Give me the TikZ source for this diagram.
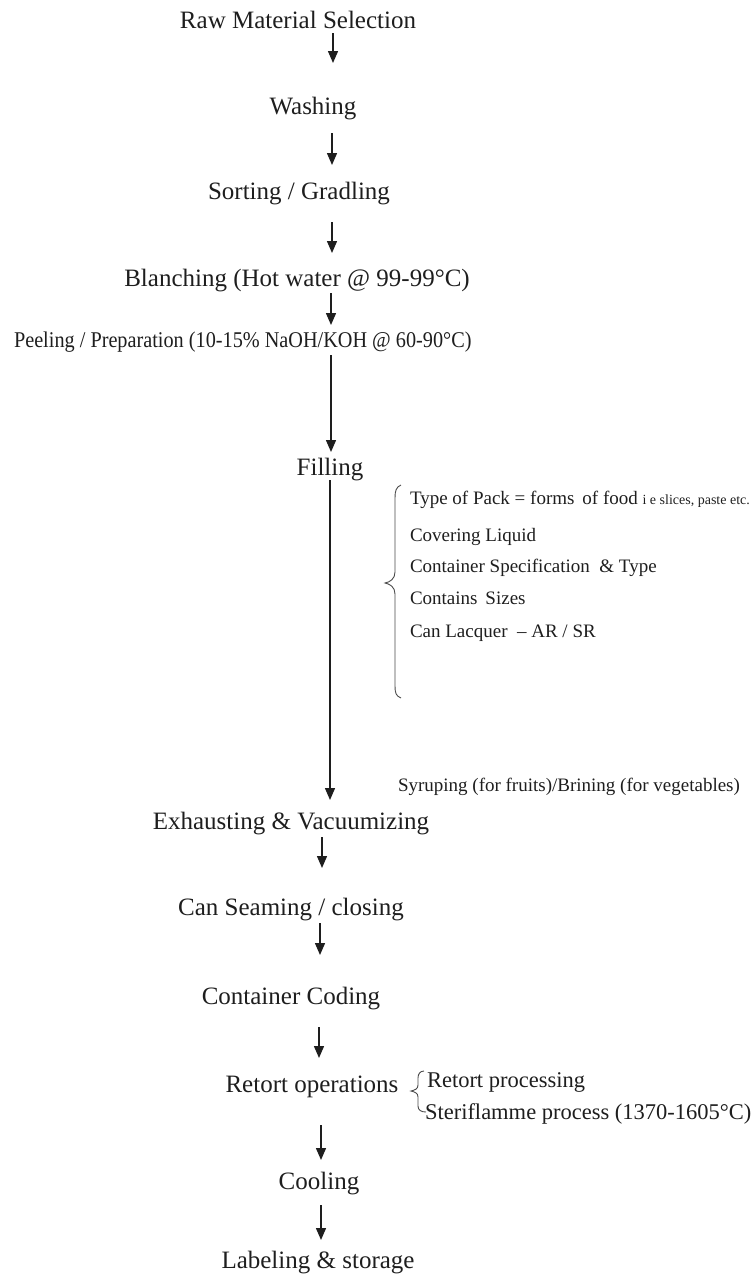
\documentclass[tikz,border=0pt]{standalone}
\usepackage{fontspec}
\setmainfont{Liberation Serif}
\usetikzlibrary{arrows.meta}
\definecolor{ink}{HTML}{1E1E1E}
\tikzset{
  stepbox/.style={inner sep=0pt, outer sep=0pt, text=ink, text height=17pt, text depth=5pt, font=\fontsize{25}{30}\selectfont},
  sidetext/.style={inner sep=0pt, outer sep=0pt, text=ink, anchor=west, text height=13pt, text depth=4pt, font=\fontsize{19}{23}\selectfont},
  flowarrow/.style={draw=ink, line width=1.4pt, -{Triangle[length=12pt,width=10pt]}},
  bracestyle/.style={draw=ink!80, line width=0.9pt}
}
\begin{document}
\begin{tikzpicture}[x=1pt,y=-1pt]
\useasboundingbox (0,0) rectangle (753,1283);
% main steps
\node[stepbox] (raw)  at (298,22)   {Raw Material Selection};
\node[stepbox] (wash) at (313,108)  {Washing};
\node[stepbox] (sort) at (299,193)  {Sorting / Gradling};
\node[stepbox] (blan) at (297,280)  {Blanching (Hot water @ 99-99\textdegree C)};
\node[stepbox, anchor=west, font=\fontsize{22.5}{27}\selectfont] (peel) at (14,341) {\scalebox{0.9}[1]{Peeling / Preparation (10-15\% NaOH/KOH @ 60-90\textdegree C)}};
\node[stepbox] (fill) at (330,469)  {Filling};
\node[stepbox] (exha) at (291,823)  {Exhausting \& Vacuumizing};
\node[stepbox] (seam) at (291,909)  {Can Seaming / closing};
\node[stepbox] (code) at (291,998)  {Container Coding};
\node[stepbox] (reto) at (312,1086) {Retort operations};
\node[stepbox] (cool) at (319,1183) {Cooling};
\node[stepbox] (labl) at (318,1262) {Labeling \& storage};
% arrow end points
\coordinate (a1s) at (333,33);   \coordinate (a1e) at (333,63);
\coordinate (a2s) at (332,133);  \coordinate (a2e) at (332,165);
\coordinate (a3s) at (332,222);  \coordinate (a3e) at (332,253);
\coordinate (a4s) at (331,293);  \coordinate (a4e) at (331,325);
\coordinate (a5s) at (331,355);  \coordinate (a5e) at (331,452);
\coordinate (a6s) at (330,480);  \coordinate (a6e) at (330,800);
\coordinate (a7s) at (322,837);  \coordinate (a7e) at (322,868);
\coordinate (a8s) at (320,923);  \coordinate (a8e) at (320,955);
\coordinate (a9s) at (319,1027); \coordinate (a9e) at (319,1058);
\coordinate (a10s) at (321,1125); \coordinate (a10e) at (321,1160);
\coordinate (a11s) at (321,1205); \coordinate (a11e) at (321,1240);
\foreach \i in {1,...,11} {\draw[flowarrow] (a\i s) -- (a\i e);}
% filling details
\node[sidetext] (t1) at (410,500) {Type of Pack = forms\, of food {\fontsize{14}{16}\selectfont i e slices, paste etc.}};
\node[sidetext] (t2) at (410,537) {Covering Liquid};
\node[sidetext] (t3) at (410,568) {Container Specification\ \ \& Type};
\node[sidetext] (t4) at (410,600) {Contains\, Sizes};
\node[sidetext] (t5) at (410,633) {Can Lacquer\ \ -- AR / SR};
\node[sidetext] (syr) at (398,787) {Syruping (for fruits)/Brining (for vegetables)};
% big brace
\coordinate (b1) at (401,485);
\coordinate (b2) at (385,583);
\coordinate (b3) at (401,698);
\draw[bracestyle] (b1) .. controls (396,487) and (395,491) .. (395,498)
  -- (395,572) .. controls (395,579) and (390,582) .. (b2)
  .. controls (390,584) and (395,587) .. (395,594)
  -- (395,686) .. controls (395,693) and (396,696) .. (b3);
% retort details
\node[sidetext, font=\fontsize{22.5}{27}\selectfont] (r1) at (427,1083) {Retort processing};
\node[sidetext, font=\fontsize{22.5}{27}\selectfont] (r2) at (425,1115) {Steriflamme process (1370-1605\textdegree C)};
\coordinate (c1) at (424,1071);
\coordinate (c2) at (411,1091);
\coordinate (c3) at (426,1112);
\draw[bracestyle] (c1) .. controls (420,1071) and (418,1074) .. (418,1078)
  -- (418,1085) .. controls (418,1089) and (415,1090) .. (c2)
  .. controls (415,1092) and (418,1093) .. (418,1097)
  -- (418,1106) .. controls (418,1110) and (421,1112) .. (c3);
\end{tikzpicture}
\end{document}
